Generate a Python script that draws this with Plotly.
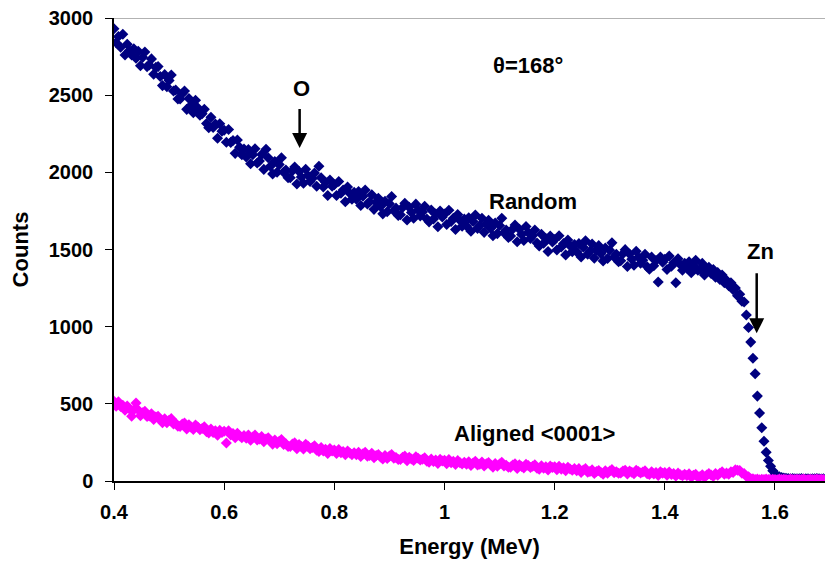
import plotly.graph_objects as go

# Energy calibration: channel energies (MeV), 4 keV per channel starting at 0.400 MeV
E_START = 0.400
E_STEP = 0.004

random_counts = [
    2930, 2840, 2880, 2810, 2895, 2760, 2830, 2790, 2760, 2800,
    2740, 2785, 2690, 2745, 2780, 2685, 2695, 2735, 2635, 2680,
    2685, 2621, 2562, 2633, 2554, 2595, 2631, 2527, 2533, 2475,
    2475, 2511, 2527, 2408, 2479, 2435, 2386, 2467, 2418, 2370,
    2380, 2408, 2316, 2289, 2357, 2290, 2313, 2221, 2314, 2267,
    2273, 2195, 2277, 2194, 2206, 2123, 2210, 2162, 2114, 2151,
    2100, 2148, 2056, 2114, 2152, 2060, 2073, 2116, 2019, 2150,
    2095, 2040, 1990, 2070, 2000, 2050, 2095, 2000, 2015, 1965,
    1965, 2010, 2035, 1925, 2005, 1970, 1930, 2020, 1980, 1940,
    1960, 1995, 1910, 2040, 1965, 1905, 1935, 1850, 1950, 1910,
    1920, 1850, 1940, 1865, 1885, 1810, 1905, 1865, 1825, 1870,
    1825, 1875, 1785, 1845, 1885, 1795, 1810, 1855, 1760, 1807,
    1832, 1779, 1731, 1813, 1745, 1797, 1844, 1751, 1768, 1720,
    1725, 1772, 1799, 1691, 1773, 1740, 1702, 1794, 1756, 1718,
    1743, 1780, 1697, 1679, 1756, 1698, 1730, 1647, 1749, 1711,
    1730, 1662, 1754, 1681, 1703, 1630, 1727, 1689, 1651, 1698,
    1652, 1705, 1618, 1681, 1724, 1637, 1655, 1703, 1611, 1664,
    1690, 1637, 1589, 1671, 1603, 1655, 1702, 1609, 1626, 1578,
    1587, 1633, 1659, 1550, 1631, 1597, 1558, 1649, 1610, 1571,
    1590, 1626, 1542, 1523, 1599, 1540, 1571, 1487, 1588, 1549,
    1565, 1497, 1589, 1516, 1538, 1465, 1562, 1524, 1486, 1533,
    1485, 1538, 1451, 1514, 1557, 1470, 1488, 1536, 1444, 1497,
    1525, 1473, 1426, 1509, 1442, 1495, 1543, 1451, 1469, 1421,
    1427, 1473, 1499, 1390, 1471, 1437, 1398, 1489, 1450, 1411,
    1430, 1469, 1388, 1372, 1451, 1395, 1429, 1290, 1452, 1417,
    1437, 1370, 1458, 1391, 1414, 1285, 1440, 1403, 1366, 1410,
    1380, 1420, 1350, 1398, 1430, 1365, 1372, 1410, 1335, 1375,
    1385, 1345, 1370, 1320, 1350, 1305, 1335, 1285, 1300, 1265,
    1285, 1240, 1250, 1200, 1210, 1165, 1160, 1075, 995, 900,
    795, 695, 550, 440, 345, 258, 186, 133, 96, 66,
    44, 34, 27, 22, 19, 17, 16, 15, 16, 14,
    15, 14, 16, 13, 15, 14, 13, 15, 14, 16,
    14, 13, 15,
]

aligned_counts = [
    517, 484, 513, 483, 490, 459, 486, 466, 420, 461,
    505, 460, 423, 442, 452, 418, 421, 435, 398, 414,
    420, 397, 377, 403, 377, 394, 404, 370, 374, 355,
    354, 369, 376, 337, 364, 349, 334, 363, 350, 333,
    340, 351, 320, 312, 337, 314, 326, 297, 328, 314,
    322, 246, 325, 298, 308, 280, 310, 293, 280, 294,
    278, 298, 264, 285, 298, 266, 272, 288, 254, 272,
    280, 258, 239, 266, 241, 258, 269, 236, 241, 223,
    224, 240, 247, 209, 237, 223, 208, 238, 226, 209,
    217, 229, 199, 191, 217, 194, 206, 178, 210, 195,
    201, 178, 204, 183, 191, 170, 194, 181, 171, 183,
    170, 186, 159, 176, 186, 161, 165, 179, 151, 165,
    172, 156, 142, 165, 146, 161, 172, 147, 152, 139,
    140, 154, 161, 131, 154, 143, 133, 157, 148, 136,
    141, 151, 128, 121, 143, 126, 136, 114, 140, 129,
    135, 112, 139, 118, 127, 107, 132, 119, 110, 122,
    109, 125, 100, 117, 128, 104, 109, 123, 97, 112,
    120, 104, 90, 114, 95, 110, 121, 97, 102, 89,
    90, 104, 111, 81, 105, 94, 84, 108, 100, 88,
    95, 105, 82, 76, 99, 82, 92, 71, 97, 87,
    92, 73, 96, 77, 86, 66, 89, 78, 70, 80,
    66, 80, 56, 71, 80, 57, 62, 72, 49, 62,
    68, 55, 44, 66, 51, 65, 74, 54, 60, 50,
    52, 64, 70, 45, 65, 57, 47, 70, 62, 52,
    58, 67, 47, 42, 60, 46, 55, 36, 60, 50,
    55, 38, 58, 42, 49, 32, 51, 41, 34, 44,
    35, 46, 25, 37, 44, 25, 29, 41, 23, 38,
    49, 39, 30, 49, 37, 50, 60, 44, 51, 44,
    60, 56, 72, 70, 68, 50, 48, 30, 28, 14,
    14, 10, 12, 8, 11, 9, 12, 10, 9, 11,
    10, 8, 12, 9, 11, 10, 8, 12, 10, 9,
    11, 9, 10, 12, 8, 10, 11, 9, 10, 12,
    9, 11, 10,
]

energy = [round(E_START + E_STEP * i, 4) for i in range(len(random_counts))]

x_ticks = [0.4, 0.6, 0.8, 1.0, 1.2, 1.4, 1.6]
x_tick_labels = ["0.4", "0.6", "0.8", "1", "1.2", "1.4", "1.6"]
y_ticks = [0, 500, 1000, 1500, 2000, 2500, 3000]

FONT = "Liberation Sans, Arial, sans-serif"

fig = go.Figure()
fig.add_trace(go.Scatter(
    x=energy, y=random_counts, mode="markers", name="Random",
    marker=dict(symbol="diamond", size=8.5, color="#000080", line=dict(width=0)),
))
fig.add_trace(go.Scatter(
    x=energy, y=aligned_counts, mode="markers", name="Aligned <0001>",
    marker=dict(symbol="diamond", size=8.5, color="#FF00FF", line=dict(width=0)),
))

fig.update_layout(
    width=825, height=568,
    margin=dict(l=114, r=0, t=18, b=87),
    paper_bgcolor="white", plot_bgcolor="white",
    showlegend=False,
    font=dict(family=FONT, color="black"),
    xaxis=dict(
        range=[0.4, 1.6908], tickvals=x_ticks, ticktext=x_tick_labels,
        showgrid=False, zeroline=False,
        showline=True, linecolor="black", linewidth=1.5,
        ticks="outside", ticklen=7, tickwidth=1.2, tickcolor="black",
        tickfont=dict(size=20, family=FONT, weight="bold"),
        ticklabelstandoff=5,
        title=dict(text="<b>Energy (MeV)</b>", font=dict(size=22, family=FONT), standoff=17),
    ),
    yaxis=dict(
        range=[0, 3000], tickvals=y_ticks,
        showgrid=False, zeroline=False,
        showline=True, linecolor="black", linewidth=1.5,
        ticks="outside", ticklen=7, tickwidth=1.2, tickcolor="black",
        tickfont=dict(size=20, family=FONT, weight="bold"),
        ticklabelstandoff=8,
        title=dict(text="<b>Counts</b>", font=dict(size=22, family=FONT), standoff=14),
    ),
    shapes=[dict(type="line", xref="paper", yref="y", x0=0, x1=1, y0=3000, y1=3000,
                 line=dict(color="#999999", width=1.5))],
)

ann_font = dict(size=22, family=FONT, color="black", weight="bold")
fig.add_annotation(x=1.152, y=2695, text="θ=168°", showarrow=False, font=ann_font)
fig.add_annotation(x=0.741, y=2544, text="O", showarrow=False, font=ann_font)
fig.add_annotation(x=1.161, y=1810, text="Random", showarrow=False, font=ann_font)
fig.add_annotation(x=1.573, y=1486, text="Zn", showarrow=False, font=ann_font)
fig.add_annotation(x=1.164, y=309, text="Aligned &lt;0001&gt;", showarrow=False, font=ann_font)
# arrows
fig.add_annotation(x=0.737, y=2158, ax=0.737, ay=2420, axref="x", ayref="y", xref="x", yref="y",
                   text="", showarrow=True, arrowhead=2, arrowsize=1.2, arrowwidth=2.5, arrowcolor="black")
fig.add_annotation(x=1.5668, y=957, ax=1.5668, ay=1356, axref="x", ayref="y", xref="x", yref="y",
                   text="", showarrow=True, arrowhead=2, arrowsize=1.2, arrowwidth=2.5, arrowcolor="black")

fig.write_html("out.html")
